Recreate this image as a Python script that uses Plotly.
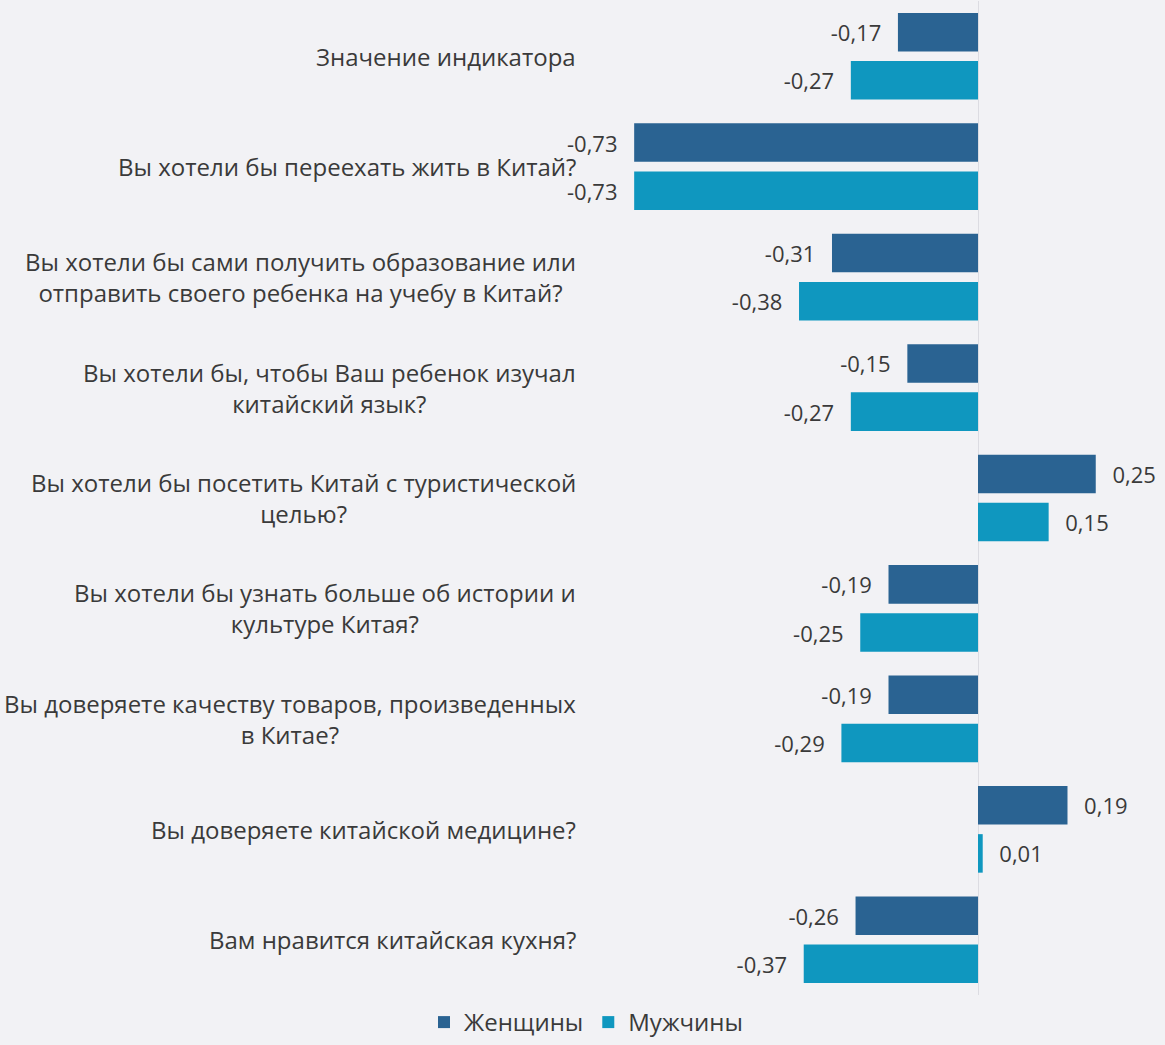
import plotly.graph_objects as go

# Survey items (top to bottom) and indicator values by gender
categories = [
    "Значение индикатора",
    "Вы хотели бы переехать жить в Китай?",
    "Вы хотели бы сами получить образование или<br>отправить своего ребенка на учебу в Китай?",
    "Вы хотели бы, чтобы Ваш ребенок изучал<br>китайский язык?",
    "Вы хотели бы посетить Китай с туристической<br>целью?",
    "Вы хотели бы узнать больше об истории и<br>культуре Китая?",
    "Вы доверяете качеству товаров, произведенных<br>в Китае?",
    "Вы доверяете китайской медицине?",
    "Вам нравится китайская кухня?",
]
women = [-0.17, -0.73, -0.31, -0.15, 0.25, -0.19, -0.19, 0.19, -0.26]
men = [-0.27, -0.73, -0.38, -0.27, 0.15, -0.25, -0.29, 0.01, -0.37]
series_names = ["Женщины", "Мужчины"]

COLOR_W = "#2a6392"
COLOR_M = "#0f97bf"
TEXT = "#3a3a3a"
BG = "#f2f2f5"
FONT = "Open Sans"
PAD = "\u00a0\u00a0\u200a"


def fmt(v):
    s = f"{v:.2f}".replace(".", ",")
    return s + PAD if v < 0 else PAD + s


fig = go.Figure()
for name, vals, col in [(series_names[0], women, COLOR_W), (series_names[1], men, COLOR_M)]:
    fig.add_trace(go.Bar(
        y=categories, x=vals, name=name, orientation="h",
        marker=dict(color=col, line=dict(width=0)),
        text=[fmt(v) for v in vals], textposition="outside",
        textfont=dict(family=FONT, size=22, color=TEXT),
        constraintext="none", cliponaxis=False,
    ))

# question labels, centred lines, right-aligned block
for cat in categories:
    fig.add_annotation(
        x=0.4961, xref="paper", y=cat, yref="y", text=cat,
        xanchor="right", yanchor="middle", align="center", showarrow=False,
        font=dict(family=FONT, size=24, color=TEXT),
    )

fig.update_layout(
    width=1165, height=1045,
    margin=dict(l=0, r=0, t=1, b=43),
    paper_bgcolor=BG, plot_bgcolor=BG,
    barmode="group", bargap=0.128, bargroupgap=0.2,
    showlegend=True,
    legend=dict(orientation="h", x=0.503, xanchor="center", y=-0.028, yanchor="middle",
                font=dict(family=FONT, size=24, color=TEXT), traceorder="normal",
                itemwidth=30, bgcolor="rgba(0,0,0,0)"),
    font=dict(family=FONT, color=TEXT),
)
fig.update_xaxes(range=[-978 / 471, (1165 - 978) / 471], showgrid=False, showticklabels=False,
                 zeroline=True, zerolinecolor="#dcdce2", zerolinewidth=1, fixedrange=True)
fig.update_yaxes(categoryorder="array", categoryarray=categories, autorange="reversed",
                 showticklabels=False, showgrid=False, fixedrange=True)

fig.write_html("out.html")
